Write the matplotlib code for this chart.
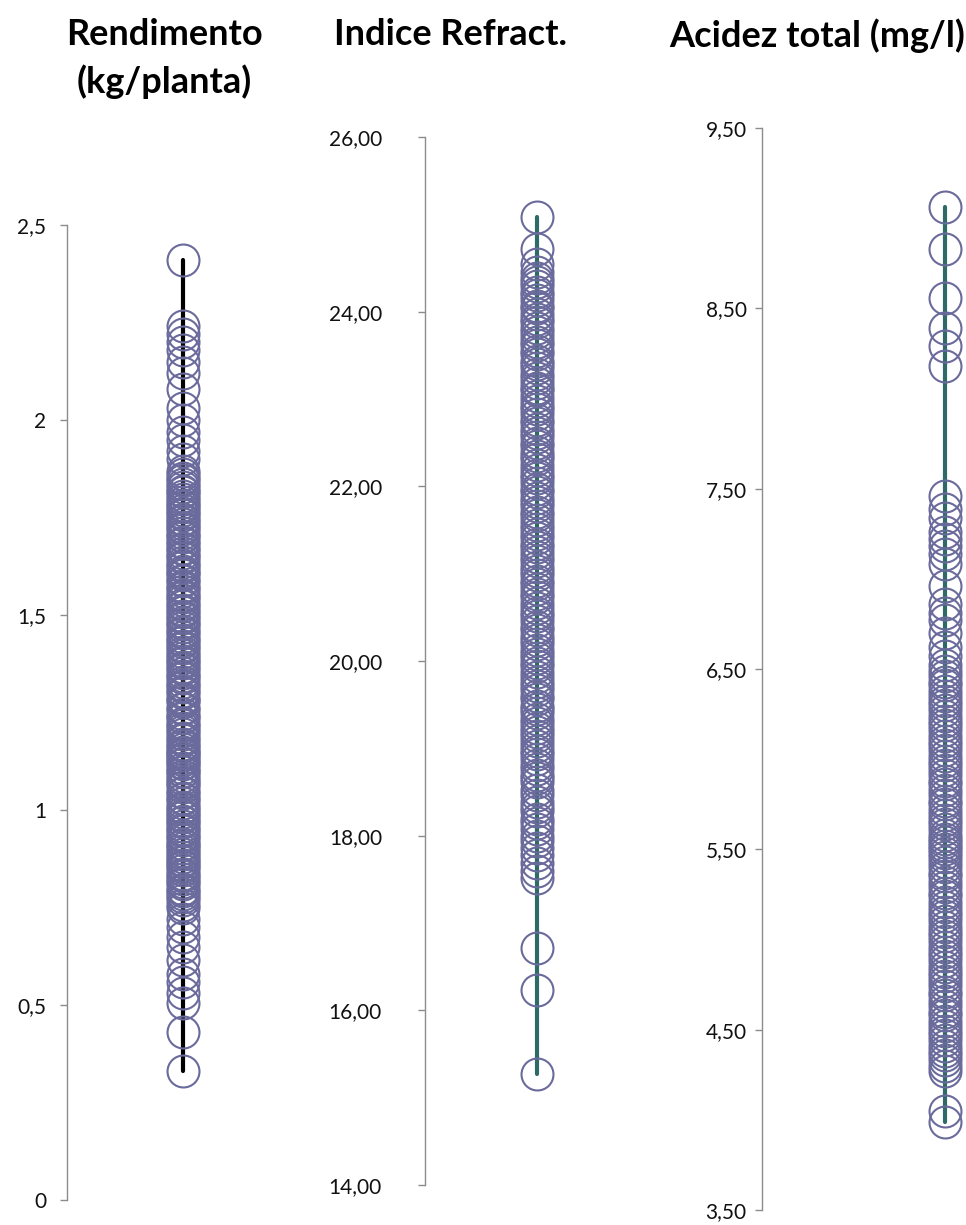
import matplotlib
matplotlib.use("Agg")
import matplotlib.pyplot as plt
from matplotlib.ticker import FixedLocator, FixedFormatter

plt.rcParams['font.family'] = ['Lato', 'DejaVu Sans']

# --- data -------------------------------------------------------------
titles = ["Rendimento\n(kg/planta)", "Indice Refract.", "Acidez total (mg/l)"]

rendimento = [
    2.41, 2.24, 2.22, 2.20, 2.18, 2.15, 2.12, 2.08, 2.03, 2.00, 1.97, 1.95,
    1.92, 1.90, 1.87, 1.862, 1.851, 1.846, 1.836, 1.829, 1.818, 1.815, 1.804,
    1.797, 1.791, 1.782, 1.778, 1.769, 1.761, 1.757, 1.745, 1.742, 1.733,
    1.725, 1.721, 1.709, 1.703, 1.699, 1.688, 1.684, 1.672, 1.668, 1.659,
    1.651, 1.647, 1.636, 1.629, 1.624, 1.612, 1.607, 1.602, 1.590, 1.586,
    1.574, 1.569, 1.562, 1.551, 1.547, 1.538, 1.529, 1.523, 1.514, 1.508,
    1.497, 1.493, 1.481, 1.476, 1.468, 1.459, 1.455, 1.443, 1.437, 1.431,
    1.420, 1.416, 1.404, 1.398, 1.391, 1.382, 1.378, 1.366, 1.361, 1.352,
    1.344, 1.339, 1.327, 1.321, 1.316, 1.304, 1.299, 1.288, 1.281, 1.277,
    1.262, 1.258, 1.247, 1.239, 1.236, 1.223, 1.218, 1.209, 1.202, 1.196,
    1.184, 1.179, 1.168, 1.163, 1.157, 1.149, 1.146, 1.140, 1.133, 1.128,
    1.121, 1.117, 1.108, 1.101, 1.097, 1.086, 1.079, 1.071, 1.066, 1.058,
    1.047, 1.043, 1.031, 1.027, 1.019, 1.008, 1.003, 0.996, 0.988, 0.982,
    0.971, 0.968, 0.959, 0.951, 0.946, 0.936, 0.931, 0.924, 0.913, 0.909,
    0.902, 0.894, 0.887, 0.879, 0.872, 0.867, 0.858, 0.853, 0.846, 0.836,
    0.831, 0.822, 0.815, 0.809, 0.798, 0.792, 0.784, 0.776, 0.768, 0.757,
    0.748, 0.72, 0.70, 0.675, 0.65, 0.615, 0.58, 0.56, 0.53, 0.505, 0.43,
    0.33,
]
ren_ticks = [0, 0.5, 1, 1.5, 2, 2.5]
ren_labels = ["0", "0,5", "1", "1,5", "2", "2,5"]

indice_refract = [
    25.08, 24.72, 24.55, 24.45, 24.38, 24.34, 24.29, 24.22, 24.19, 24.13,
    24.07, 24.04, 23.97, 23.92, 23.88, 23.81, 23.77, 23.71, 23.65, 23.62,
    23.55, 23.51, 23.44, 23.40, 23.36, 23.29, 23.24, 23.18, 23.13, 23.10,
    23.03, 22.98, 22.92, 22.88, 22.83, 22.76, 22.72, 22.66, 22.61, 22.57,
    22.50, 22.46, 22.39, 22.35, 22.31, 22.24, 22.19, 22.13, 22.09, 22.04,
    21.97, 21.93, 21.87, 21.82, 21.78, 21.71, 21.67, 21.61, 21.56, 21.51,
    21.45, 21.41, 21.34, 21.30, 21.25, 21.19, 21.15, 21.08, 21.03, 20.99,
    20.92, 20.88, 20.82, 20.77, 20.73, 20.66, 20.61, 20.55, 20.51, 20.46,
    20.39, 20.35, 20.29, 20.24, 20.20, 20.13, 20.08, 20.03, 19.98, 19.94,
    19.87, 19.82, 19.76, 19.71, 19.67, 19.60, 19.56, 19.49, 19.45, 19.41,
    19.34, 19.29, 19.23, 19.19, 19.14, 19.08, 19.03, 18.97, 18.93, 18.88,
    18.81, 18.76, 18.70, 18.66, 18.61, 18.52, 18.47, 18.39, 18.33, 18.28,
    18.19, 18.14, 18.08, 18.00, 17.94, 17.86, 17.78, 17.69, 17.60, 17.52,
    16.71, 16.23, 15.27,
]
ref_ticks = [14, 16, 18, 20, 22, 24, 26]
ref_labels = ["14,00", "16,00", "18,00", "20,00", "22,00", "24,00", "26,00"]

acidez_total = [
    9.06, 8.83, 8.56, 8.39, 8.29, 8.18, 7.46, 7.39, 7.34, 7.26, 7.22, 7.18,
    7.14, 7.08, 6.96, 6.86, 6.81, 6.77, 6.70, 6.62, 6.57, 6.52, 6.49, 6.46,
    6.43, 6.41, 6.38, 6.35, 6.32, 6.30, 6.27, 6.24, 6.21, 6.19, 6.16, 6.13,
    6.10, 6.08, 6.05, 6.02, 5.99, 5.97, 5.94, 5.91, 5.88, 5.86, 5.83, 5.80,
    5.77, 5.75, 5.72, 5.69, 5.66, 5.64, 5.61, 5.58, 5.56, 5.54, 5.52, 5.50,
    5.48, 5.46, 5.43, 5.40, 5.37, 5.35, 5.32, 5.29, 5.26, 5.24, 5.21, 5.18,
    5.15, 5.13, 5.10, 5.07, 5.04, 5.02, 4.99, 4.96, 4.93, 4.91, 4.88, 4.85,
    4.82, 4.80, 4.77, 4.74, 4.71, 4.69, 4.66, 4.63, 4.60, 4.58, 4.55, 4.52,
    4.49, 4.47, 4.44, 4.41, 4.38, 4.36, 4.33, 4.30, 4.27, 4.05, 3.99,
]
aci_ticks = [3.5, 4.5, 5.5, 6.5, 7.5, 8.5, 9.5]
aci_labels = ["3,50", "4,50", "5,50", "6,50", "7,50", "8,50", "9,50"]

# --- styling ----------------------------------------------------------
W, H = 966, 1225
marker_edge = "#6A6A9C"
spine_grey = "#8C8C8C"
line_colors = ["#000000", "#2E6A66", "#2E6A66"]

fig = plt.figure(figsize=(W / 100, H / 100), dpi=100)

# axes boxes in pixels: left, top, width, bottom
boxes = [
    (67, 225, 232, 1200),
    (425, 137, 224, 1185),
    (762, 128, 366, 1210),
]
label_pads = [10, 26, 6]
series = [rendimento, indice_refract, acidez_total]
ylims = [(0, 2.5), (14, 26), (3.5, 9.5)]
ticks = [ren_ticks, ref_ticks, aci_ticks]
labels = [ren_labels, ref_labels, aci_labels]

for i in range(3):
    left, top, width, bottom = boxes[i]
    ax = fig.add_axes([left / W, (H - bottom) / H, width / W, (bottom - top) / H])
    vals = series[i]
    ax.plot([0, 0], [min(vals), max(vals)], color=line_colors[i], lw=3.0,
            solid_capstyle="round", zorder=2)
    ax.plot([0] * len(vals), vals, linestyle="none", marker="o",
            markersize=23, markerfacecolor="none", markeredgecolor=marker_edge,
            markeredgewidth=1.5, zorder=3, clip_on=False)
    ax.set_xlim(-1, 1)
    ax.set_ylim(*ylims[i])
    for s in ("top", "right", "bottom"):
        ax.spines[s].set_visible(False)
    ax.spines["left"].set_color(spine_grey)
    ax.spines["left"].set_linewidth(1.0)
    ax.set_xticks([])
    ax.yaxis.set_major_locator(FixedLocator(ticks[i]))
    ax.yaxis.set_major_formatter(FixedFormatter(labels[i]))
    ax.tick_params(axis="y", length=5, width=1.0, color=spine_grey,
                   labelsize=15, labelcolor="#111111", pad=label_pads[i])
    ax.patch.set_visible(False)

# column titles
title_pos = [(164, 18), (451, 18), (817, 18)]
for (x, y), t in zip(title_pos, titles):
    fig.text(x / W, 1 - y / H, t, ha="center", va="top", fontsize=26,
             fontweight="bold", color="#000000", linespacing=1.45)

fig.savefig("out.png", dpi=100)
